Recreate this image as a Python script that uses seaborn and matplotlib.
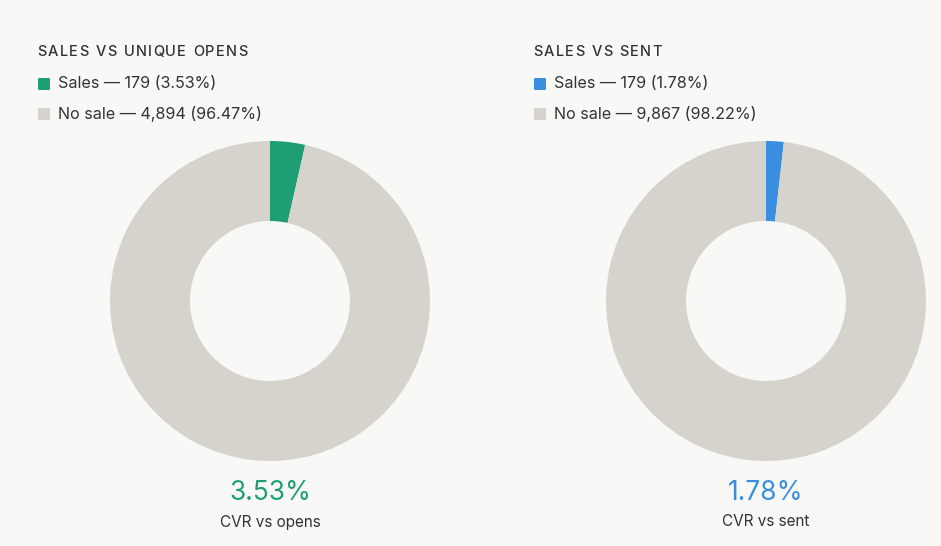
import matplotlib
matplotlib.use("Agg")
import matplotlib.pyplot as plt
from matplotlib.patches import FancyBboxPatch
import seaborn as sns

titles = ["SALES VS UNIQUE OPENS", "SALES VS SENT"]
sales = [179, 179]
no_sale = [4894, 9867]
subtitles = ["CVR vs opens", "CVR vs sent"]
accent_colors = ["#1f9e74", "#3a8ee0"]
grey = "#d5d3cb"
bg = "#f8f8f6"
text_color = "#333333"

sns.set_theme(style="white")
plt.rcParams['font.family'] = ['Inter', 'DejaVu Sans']

W, H = 941, 546
fig = plt.figure(figsize=(W / 100, H / 100), dpi=100, facecolor=bg)
renderer = fig.canvas.get_renderer()


def fx(px):
    return px / W


def fy(py):
    return 1 - py / H


def spaced_text(x_px, y_px, s, spacing_px, **kw):
    x = x_px
    for ch in s:
        t = fig.text(fx(x), fy(y_px), ch, ha="left", va="center", **kw)
        if ch == " ":
            probe = fig.text(0, 0, "n", **kw)
            w = probe.get_window_extent(renderer).width * 0.55
            probe.remove()
        else:
            w = t.get_window_extent(renderer).width
        x += w + spacing_px


offsets = [0, 496]
for i in range(2):
    ox = offsets[i]
    total = sales[i] + no_sale[i]
    pct_s = sales[i] / total * 100
    pct_n = no_sale[i] / total * 100
    cx, cy, r = 270 + ox, 301, 160
    ax = fig.add_axes([fx(cx - r), fy(cy + r), fx(2 * r), 2 * r / H])
    ax.set_facecolor(bg)
    ax.pie([sales[i], no_sale[i]], colors=[accent_colors[i], grey], startangle=90,
           counterclock=False, radius=1, wedgeprops=dict(width=0.5, linewidth=0))
    ax.set_xlim(-1, 1)
    ax.set_ylim(-1, 1)
    ax.set_aspect("auto")
    ax.axis("off")

    spaced_text(37.5 + ox, 52, titles[i], 1.2, fontsize=10.5, color=text_color,
                fontweight="medium")
    rows = [(accent_colors[i], f"Sales — {sales[i]:,} ({pct_s:.2f}%)", 84),
            (grey, f"No sale — {no_sale[i]:,} ({pct_n:.2f}%)", 114)]
    for col, label, y in rows:
        sq = FancyBboxPatch((fx(38 + ox), fy(y + 6)), fx(12), 12 / H,
                            boxstyle="round,pad=0,rounding_size=0.002",
                            transform=fig.transFigure, facecolor=col,
                            edgecolor="none")
        fig.patches.append(sq)
        fig.text(fx(58 + ox), fy(y), label, fontsize=11.6, color=text_color,
                 ha="left", va="center")
    fig.text(fx(cx), fy(493), f"{pct_s:.2f}%", fontsize=19, color=accent_colors[i],
             ha="center", va="center")
    fig.text(fx(cx), fy(522), subtitles[i], fontsize=11, color=text_color,
             ha="center", va="center")

fig.savefig("out.png", dpi=100, facecolor=bg)
